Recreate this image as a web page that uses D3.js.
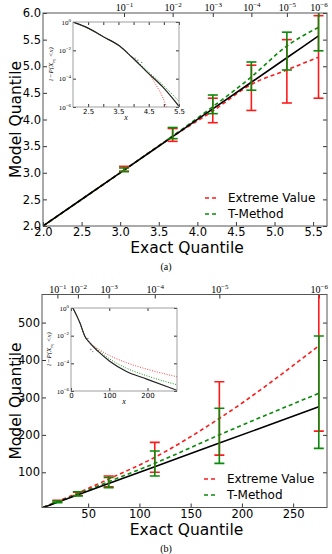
<!DOCTYPE html>
<meta charset="utf-8">
<style>
	body {
		margin: 0;
		background: #fff;
	}

	text {
		font-family: "DejaVu Sans", sans-serif;
	}

	.tick line {
		stroke: #333;
	}

	.serif {
		font-family: "Liberation Serif", "DejaVu Serif", serif;
	}
</style>

<body>
	<script src="https://d3js.org/d3.v7.min.js"></script>
	<script>
		// shared top axis labels (tail probability exponents)
		var topExp = ["\u22121", "\u22122", "\u22123", "\u22124", "\u22125", "\u22126"];

		// ---- panel (a) ----
		var exactA = [3.05, 3.68, 4.20, 4.70, 5.16, 5.57];
		var lineXA = [2.0, 3.05, 3.68, 4.20, 4.70, 5.16, 5.57];
		var evLineA = [2.0, 3.05, 3.68, 4.16, 4.66, 4.93, 5.17];
		var tmLineA = [2.0, 3.05, 3.69, 4.24, 4.80, 5.38, 5.73];
		var evLowA = [3.03, 3.59, 3.94, 4.17, 4.31, 4.40];
		var evHighA = [3.12, 3.83, 4.40, 5.02, 5.50, 5.95];
		var tmLowA = [3.02, 3.64, 4.11, 4.55, 4.93, 5.29];
		var tmHighA = [3.09, 3.85, 4.46, 5.08, 5.64, 6.30];
		var xTicksA = [2.0, 2.5, 3.0, 3.5, 4.0, 4.5, 5.0, 5.5];
		var yTicksA = [2.0, 2.5, 3.0, 3.5, 4.0, 4.5, 5.0, 5.5, 6.0];

		// inset (a): x and log10 of 1-P
		var insBlackXA = [2.0, 2.5, 3.0, 3.54, 3.93, 4.43, 4.97, 5.5];
		var insBlackYA = [0, -0.43, -1.04, -1.7, -2.45, -3.5, -4.6, -5.95];
		var insGreenXA = [2.0, 2.5, 3.0, 3.54, 3.93, 4.43, 4.97, 5.5];
		var insGreenYA = [0, -0.43, -1.04, -1.7, -2.42, -3.4, -4.45, -5.6];
		var insRedXA = [2.0, 2.5, 3.0, 3.54, 3.93, 4.31, 4.55, 4.76, 4.97, 5.09];
		var insRedYA = [0, -0.43, -1.04, -1.7, -2.45, -3.25, -3.8, -4.5, -5.36, -6.0];
		var insDotXA = [4.05, 4.14, 4.27];
		var insDotYA = [-2.55, -2.7, -2.85];
		var insXTicksA = [2.5, 3.0, 3.5, 4.0, 4.5, 5.0, 5.5];
		var insXLabelsA = [2.5, 3.5, 4.5, 5.5];

		// ---- panel (b) ----
		var exactB = [20, 40, 70, 115, 178, 275];
		var lineXB = [6, 20, 40, 70, 115, 178, 275];
		var evLineB = [6, 22, 45, 82, 140, 244, 438];
		var tmLineB = [6, 21, 42, 75, 124, 200, 311];
		var evLowB = [20, 38, 61, 100, 146, 210];
		var evHighB = [25, 47, 90, 180, 342, 620];
		var tmLowB = [19, 37, 59, 90, 124, 164];
		var tmHighB = [24, 48, 86, 157, 271, 464];
		var xTicksB = [50, 100, 150, 200, 250];
		var yTicksB = [100, 200, 300, 400, 500];

		// inset (b)
		var insBlackXB = [5, 23.5, 36.5, 49.6, 71, 102, 145, 198, 277];
		var insBlackYB = [0, -1.09, -2.06, -2.54, -3.14, -3.87, -4.59, -5.14, -5.95];
		var insGreenXB = [5, 23.5, 36.5, 49.6, 71, 102, 145, 198, 277];
		var insGreenYB = [0, -1.09, -2.06, -2.52, -3.05, -3.7, -4.35, -4.9, -5.55];
		var insRedXB = [5, 23.5, 36.5, 49.6, 71, 102, 145, 198, 277];
		var insRedYB = [0, -1.09, -2.06, -2.5, -2.96, -3.45, -3.95, -4.42, -4.97];
		var insDotXB = [44, 48, 52, 57];
		var insDotYB = [-2.2, -2.45, -3.0, -3.15];
		var insXTicksB = [0, 100, 200];

		var insYTicks = [0, -2, -4, -6];

		var svg = d3.select("body").append("svg")
			.attr("width", 332)
			.attr("height", 554);

		function drawPanel(o) {
			var g = svg.append("g");
			var x = d3.scaleLinear().domain(o.xDom).range([o.left, o.right]);
			var y = d3.scaleLinear().domain(o.yDom).range([o.bottom, o.top]);

			svg.append("clipPath").attr("id", o.id)
				.append("rect")
				.attr("x", o.left).attr("y", o.top)
				.attr("width", o.right - o.left).attr("height", o.bottom - o.top);

			// axes, ticks pointing inward
			var gx = g.append("g")
				.attr("transform", "translate(0," + o.bottom + ")")
				.call(d3.axisBottom(x).tickValues(o.xTicks).tickSize(-4).tickPadding(2)
					.tickFormat(o.xFmt));
			var gy = g.append("g")
				.attr("transform", "translate(" + o.left + ",0)")
				.call(d3.axisLeft(y).tickValues(o.yTicks).tickSize(-4).tickPadding(2)
					.tickFormat(o.yFmt));
			g.append("g")
				.attr("transform", "translate(" + o.right + ",0)")
				.call(d3.axisRight(y).tickValues(o.yTicks).tickSize(-4).tickFormat(""));
			var gt = g.append("g")
				.attr("transform", "translate(0," + o.top + ")")
				.call(d3.axisTop(x).tickValues(o.exact).tickSize(-4).tickFormat(""));
			g.selectAll(".domain").remove();
			g.selectAll(".tick text").style("font-size", "11.5px").attr("fill", "#000");

			// top probability labels 10^-k
			gt.selectAll(".tick").append("text")
				.attr("class", "serif")
				.attr("y", -2)
				.attr("text-anchor", "middle")
				.attr("fill", "#000")
				.style("font-size", "10px")
				.each(function(d, i) {
					var t = d3.select(this);
					t.append("tspan").text("10");
					t.append("tspan").attr("dy", -4).style("font-size", "7px").text(topExp[i]);
				});

			var plot = g.append("g").attr("clip-path", "url(#" + o.id + ")");

			var line = d3.line()
				.x(function(d) { return x(d[0]); })
				.y(function(d) { return y(d[1]); })
				.curve(d3.curveMonotoneX);

			plot.append("path")
				.datum(d3.zip(o.lineX, o.evLine))
				.attr("d", line)
				.attr("fill", "none").attr("stroke", "#ff1a1a")
				.attr("stroke-width", 1.6).attr("stroke-dasharray", "4,3");
			plot.append("path")
				.datum(d3.zip(o.lineX, o.tmLine))
				.attr("d", line)
				.attr("fill", "none").attr("stroke", "#0a8a0a")
				.attr("stroke-width", 1.6).attr("stroke-dasharray", "4,3");
			plot.append("path")
				.datum(d3.zip(o.lineX, o.lineX))
				.attr("d", line)
				.attr("fill", "none").attr("stroke", "#000")
				.attr("stroke-width", 1.6);

			function errBars(lo, hi, color) {
				var eb = plot.selectAll(null)
					.data(d3.zip(o.exact, lo, hi))
					.enter().append("g")
					.attr("stroke", color).attr("stroke-width", 1.6);
				eb.append("line")
					.attr("x1", function(d) { return x(d[0]); })
					.attr("x2", function(d) { return x(d[0]); })
					.attr("y1", function(d) { return y(d[1]); })
					.attr("y2", function(d) { return y(d[2]); });
				eb.append("line")
					.attr("x1", function(d) { return x(d[0]) - 5; })
					.attr("x2", function(d) { return x(d[0]) + 5; })
					.attr("y1", function(d) { return y(d[1]); })
					.attr("y2", function(d) { return y(d[1]); });
				eb.append("line")
					.attr("x1", function(d) { return x(d[0]) - 5; })
					.attr("x2", function(d) { return x(d[0]) + 5; })
					.attr("y1", function(d) { return y(d[2]); })
					.attr("y2", function(d) { return y(d[2]); });
			}
			errBars(o.evLow, o.evHigh, "#ff1a1a");
			errBars(o.tmLow, o.tmHigh, "#0a8a0a");

			// frame
			g.append("rect")
				.attr("x", o.left).attr("y", o.top)
				.attr("width", o.right - o.left).attr("height", o.bottom - o.top)
				.attr("fill", "none").attr("stroke", "#555").attr("stroke-width", 1);

			// legend
			var leg = g.append("g");
			[["Extreme Value", "#ff1a1a"], ["T-Method", "#0a8a0a"]].forEach(function(d, i) {
				var ly = o.legY + i * 16;
				leg.append("line")
					.attr("x1", o.legX).attr("x2", o.legX + 13)
					.attr("y1", ly).attr("y2", ly)
					.attr("stroke", d[1]).attr("stroke-width", 1.6)
					.attr("stroke-dasharray", "4,3");
				leg.append("text")
					.attr("x", o.legX + 23).attr("y", ly + 4)
					.style("font-size", "12px")
					.text(d[0]);
			});

			// axis titles
			g.append("text")
				.attr("x", (o.left + o.right) / 2 + 2).attr("y", o.bottom + 27)
				.attr("text-anchor", "middle")
				.style("font-size", "15.5px")
				.text("Exact Quantile");
			g.append("text")
				.attr("transform", "translate(21," + ((o.top + o.bottom) / 2) + ") rotate(-90)")
				.attr("text-anchor", "middle")
				.style("font-size", "15.5px")
				.text("Model Quantile");
			g.append("text")
				.attr("class", "serif")
				.attr("x", 166).attr("y", o.bottom + 44)
				.attr("text-anchor", "middle")
				.style("font-size", "10px")
				.text(o.caption);

			drawInset(g, o.inset);
		}

		function drawInset(parent, s) {
			var g = parent.append("g");
			var x = d3.scaleLinear().domain(s.xDom).range([s.left, s.right]);
			var y = d3.scaleLog().domain([1e-6, 1]).range([s.bottom, s.top]);

			g.append("rect")
				.attr("x", s.left).attr("y", s.top)
				.attr("width", s.right - s.left).attr("height", s.bottom - s.top)
				.attr("fill", "#fff");

			svg.append("clipPath").attr("id", s.id)
				.append("rect")
				.attr("x", s.left).attr("y", s.top)
				.attr("width", s.right - s.left).attr("height", s.bottom - s.top);

			var ax = g.append("g")
				.attr("transform", "translate(0," + s.bottom + ")")
				.call(d3.axisBottom(x).tickValues(s.xTicks).tickSize(-3).tickPadding(2)
					.tickFormat(function(d) { return s.xLabels.indexOf(d) >= 0 ? d : ""; }));
			g.append("g")
				.attr("transform", "translate(0," + s.top + ")")
				.call(d3.axisTop(x).tickValues(s.xTicks).tickSize(-3).tickFormat(""));
			var ay = g.append("g")
				.attr("transform", "translate(" + s.left + ",0)")
				.call(d3.axisLeft(y).tickValues(insYTicks.map(function(e) { return Math.pow(10, e); }))
					.tickSize(-3).tickPadding(2).tickFormat(""));
			g.append("g")
				.attr("transform", "translate(" + s.right + ",0)")
				.call(d3.axisRight(y).tickValues(insYTicks.map(function(e) { return Math.pow(10, e); }))
					.tickSize(-3).tickFormat(""));
			g.selectAll(".domain").remove();
			ax.selectAll(".tick text").style("font-size", "7px").attr("fill", "#000");

			ay.selectAll(".tick").append("text")
				.attr("class", "serif")
				.attr("x", -2).attr("dy", "0.3em")
				.attr("text-anchor", "end")
				.attr("fill", "#000")
				.style("font-size", "7px")
				.each(function(d, i) {
					var t = d3.select(this);
					t.append("tspan").text("10");
					t.append("tspan").attr("dy", -3).style("font-size", "5px")
						.text(insYTicks[i] === 0 ? "0" : "\u2212" + (-insYTicks[i]));
				});

			var plot = g.append("g").attr("clip-path", "url(#" + s.id + ")");
			var line = d3.line()
				.x(function(d) { return x(d[0]); })
				.y(function(d) { return y(Math.pow(10, d[1])); })
				.curve(d3.curveMonotoneX);

			plot.append("path")
				.datum(d3.zip(s.redX, s.redY))
				.attr("d", line)
				.attr("fill", "none").attr("stroke", "#ff4040")
				.attr("stroke-width", 1).attr("stroke-dasharray", "1,1.5");
			plot.append("path")
				.datum(d3.zip(s.greenX, s.greenY))
				.attr("d", line)
				.attr("fill", "none").attr("stroke", "#1a9a1a")
				.attr("stroke-width", 1).attr("stroke-dasharray", "1,1.5");
			plot.append("path")
				.datum(d3.zip(s.blackX, s.blackY))
				.attr("d", line)
				.attr("fill", "none").attr("stroke", "#222")
				.attr("stroke-width", 1.2);
			plot.selectAll(null)
				.data(d3.zip(s.dotX, s.dotY))
				.enter().append("circle")
				.attr("cx", function(d) { return x(d[0]); })
				.attr("cy", function(d) { return y(Math.pow(10, d[1])); })
				.attr("r", 0.7)
				.attr("fill", "#777");

			g.append("rect")
				.attr("x", s.left).attr("y", s.top)
				.attr("width", s.right - s.left).attr("height", s.bottom - s.top)
				.attr("fill", "none").attr("stroke", "#888").attr("stroke-width", 0.8);

			g.append("text")
				.attr("class", "serif")
				.attr("x", (s.left + s.right) / 2).attr("y", s.bottom + 13)
				.attr("text-anchor", "middle")
				.style("font-size", "8px").style("font-style", "italic")
				.text("x");

			var yl = g.append("text")
				.attr("class", "serif")
				.attr("transform", "translate(" + (s.left - 20) + "," + ((s.top + s.bottom) / 2) + ") rotate(-90)")
				.attr("text-anchor", "middle")
				.style("font-size", "7px").style("font-style", "italic");
			yl.append("tspan").text("1\u2212P(X");
			yl.append("tspan").attr("dy", 2).style("font-size", "5px").text("n");
			yl.append("tspan").attr("dy", 1).style("font-size", "4px").text("i");
			yl.append("tspan").attr("dy", -3).text(" <x)");
		}

		drawPanel({
			id: "clipA", left: 43, right: 327, top: 13, bottom: 226,
			xDom: [2.0, 5.68], yDom: [2.0, 6.0],
			xTicks: xTicksA, yTicks: yTicksA,
			xFmt: d3.format(".1f"), yFmt: d3.format(".1f"),
			exact: exactA, lineX: lineXA, evLine: evLineA, tmLine: tmLineA,
			evLow: evLowA, evHigh: evHighA, tmLow: tmLowA, tmHigh: tmHighA,
			legX: 205, legY: 198, caption: "(a)",
			inset: {
				id: "clipIA", left: 73, right: 179, top: 22, bottom: 107,
				xDom: [2.0, 5.5], xTicks: insXTicksA, xLabels: insXLabelsA,
				blackX: insBlackXA, blackY: insBlackYA,
				greenX: insGreenXA, greenY: insGreenYA,
				redX: insRedXA, redY: insRedYA,
				dotX: insDotXA, dotY: insDotYA
			}
		});

		drawPanel({
			id: "clipB", left: 42, right: 327, top: 294.5, bottom: 507.5,
			xDom: [5, 283], yDom: [6, 575],
			xTicks: xTicksB, yTicks: yTicksB,
			xFmt: d3.format("d"), yFmt: d3.format("d"),
			exact: exactB, lineX: lineXB, evLine: evLineB, tmLine: tmLineB,
			evLow: evLowB, evHigh: evHighB, tmLow: tmLowB, tmHigh: tmHighB,
			legX: 204, legY: 479, caption: "(b)",
			inset: {
				id: "clipIB", left: 71, right: 177, top: 308, bottom: 391,
				xDom: [0, 277], xTicks: insXTicksB, xLabels: insXTicksB,
				blackX: insBlackXB, blackY: insBlackYB,
				greenX: insGreenXB, greenY: insGreenYB,
				redX: insRedXB, redY: insRedYB,
				dotX: insDotXB, dotY: insDotYB
			}
		});
	</script>
</body>
